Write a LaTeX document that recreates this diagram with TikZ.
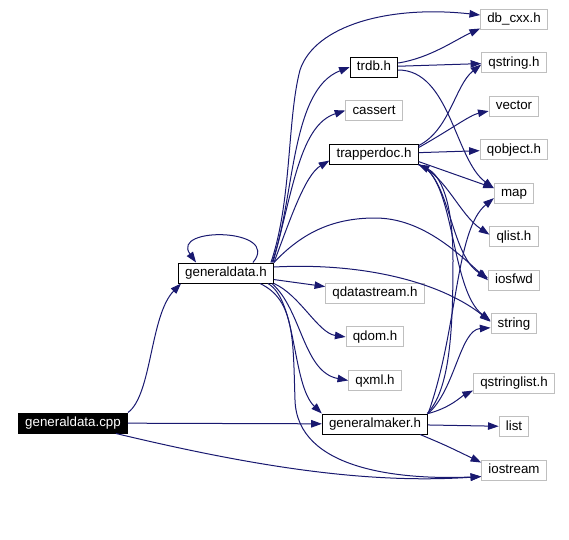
\documentclass[tikz,border=0pt]{standalone}
\usepackage{fontspec}
\setmainfont{Liberation Sans}
\usepackage{tikz}
\usetikzlibrary{arrows.meta, positioning, calc}
\definecolor{edgeblue}{HTML}{191970}
\definecolor{extgray}{HTML}{BFBFBF}
\tikzstyle{docfile} = [rectangle, draw=black, line width=0.75pt, inner xsep=5pt, inner ysep=0pt, minimum height=15pt, text height=7.5pt, text depth=2.2pt, font=\fontsize{10}{12}\selectfont]
\tikzstyle{extfile} = [docfile, draw=extgray]
\tikzstyle{srcfile} = [docfile, draw=black, fill=black, text=white]
\tikzstyle{dep} = [line width=0.75pt, -{Triangle[length=8pt, width=5.6pt]}, color=edgeblue]

\begin{document}
\begin{tikzpicture}[x=0.75pt, y=-0.75pt, node distance=16.9pt]
    \useasboundingbox (0,0) rectangle (569,540);

    \node[srcfile] (cpp) at (73,423) {generaldata.cpp};
    \node[docfile] (gdh) at (226,273) {generaldata.h};

    % Middle column
    \node[docfile] (trdb) at (374,67) {trdb.h};
    \node[extfile, below=of trdb] (cassert) {cassert};
    \node[docfile, below=of cassert] (tdoc) {trapperdoc.h};
    \node[docfile] (gm) at (375,424) {generalmaker.h};
    \node[extfile, above=of gm] (qxml) {qxml.h};
    \node[extfile, above=of qxml] (qdom) {qdom.h};
    \node[extfile, above=of qdom] (qds) {qdatastream.h};

    % Right column
    \node[extfile] (db) at (514,19) {db\_cxx.h};
    \node[extfile, below=of db] (qstr) {qstring.h};
    \node[extfile, below=of qstr] (vec) {vector};
    \node[extfile, below=of vec] (qobj) {qobject.h};
    \node[extfile, below=of qobj] (map) {map};
    \node[extfile, below=of map] (qlist) {qlist.h};
    \node[extfile, below=of qlist] (iosfwd) {iosfwd};
    \node[extfile, below=of iosfwd] (str) {string};
    \node[extfile] (qsl) at (514,383) {qstringlist.h};
    \node[extfile, below=of qsl] (lst) {list};
    \node[extfile, below=of lst] (ios) {iostream};

    % generaldata.cpp
    \draw[dep] (cpp.north east) .. controls (152,395) and (150,315) .. ($(gdh.south west)+(3,0)$);
    \draw[dep] (cpp) -- (gm);
    \draw[dep] ($(cpp.south east)+(-12,0)$) .. controls (260,468) and (370,484) .. ($(ios.south west)+(0,-4)$);

    % generaldata.h
    \draw[dep] ($(gdh.north east)+(-21,0)$) .. controls (282,228) and (170,226) .. ($(gdh.north west)+(18,0)$);
    \draw[dep] ($(gdh.north east)+(-3,0)$) .. controls (292,200) and (287,120) .. (300,70) .. controls (315,25) and (390,5) .. ($(db.west)+(0,-4)$);
    \draw[dep] ($(gdh.north east)+(-2,0)$) .. controls (295,200) and (290,90) .. (trdb.west);
    \draw[dep] ($(gdh.north east)+(-1,0)$) .. controls (293,190) and (300,125) .. (cassert.west);
    \draw[dep] (gdh.north east) .. controls (290,220) and (305,175) .. ($(tdoc.south west)+(0,-4)$);
    \draw[dep] (gdh.north east) .. controls (300,235) and (330,218) .. (375,218) .. controls (420,218) and (455,250) .. (iosfwd.west);
    \draw[dep] ($(gdh.east)+(0,-6)$) .. controls (370,262) and (445,285) .. ($(str.west)+(0,-2)$);
    \draw[dep] (gdh) -- (qds);
    \draw[dep] (gdh.south east) .. controls (300,295) and (318,333) .. (qdom.west);
    \draw[dep] ($(gdh.south east)+(-2,0)$) .. controls (302,310) and (303,372) .. (qxml.west);
    \draw[dep] ($(gdh.south east)+(-6,0)$) .. controls (297,300) and (292,385) .. (gm.north west);
    \draw[dep] ($(gdh.south east)+(-14,0)$) .. controls (295,300) and (293,340) .. (295,400) .. controls (297,470) and (400,480) .. ($(ios.south west)+(0,-4)$);

    % trdb.h
    \draw[dep] ($(trdb.east)+(0,-4)$) .. controls (430,58) and (455,40) .. ($(db.south west)+(0,-1)$);
    \draw[dep] (trdb) -- (qstr);
    \draw[dep] ($(trdb.east)+(0,3)$) .. controls (450,70) and (455,160) .. ($(map.west)+(0,-5)$);

    % trapperdoc.h
    \draw[dep] ($(tdoc.north east)+(0,2)$) .. controls (450,130) and (455,85) .. ($(qstr.west)+(0,2)$);
    \draw[dep] ($(tdoc.north east)+(0,4)$) .. controls (450,130) and (470,115) .. ($(vec.west)+(0,5)$);
    \draw[dep] (tdoc) -- (qobj);
    \draw[dep] ($(tdoc.south east)+(0,-3)$) -- ($(map.west)+(0,-5)$);
    \draw[dep] (tdoc.south east) .. controls (445,175) and (460,215) .. ($(qlist.west)+(0,-2)$);
    \draw[dep] (tdoc.south east) .. controls (450,175) and (450,255) .. ($(iosfwd.west)+(0,-2)$);
    \draw[dep] (tdoc.south east) .. controls (455,175) and (450,290) .. ($(str.west)+(0,-3)$);

    % generalmaker.h
    \draw[dep] ($(gm.north east)+(-1,0)$) .. controls (450,390) and (453,330) .. (453,260) .. controls (453,200) and (440,175) .. (tdoc.south east);
    \draw[dep] (gm.north east) .. controls (458,330) and (455,230) .. ($(map.west)+(0,5)$);
    \draw[dep] (gm.north east) .. controls (455,390) and (460,330) .. ($(str.west)+(0,4)$);
    \draw[dep] (gm.north east) .. controls (450,408) and (462,396) .. ($(qsl.south west)+(0,-3)$);
    \draw[dep] (gm) -- (lst);
    \draw[dep] ($(gm.south east)+(-8,0)$) .. controls (445,445) .. ($(ios.north west)+(0,3)$);
\end{tikzpicture}
\end{document}
